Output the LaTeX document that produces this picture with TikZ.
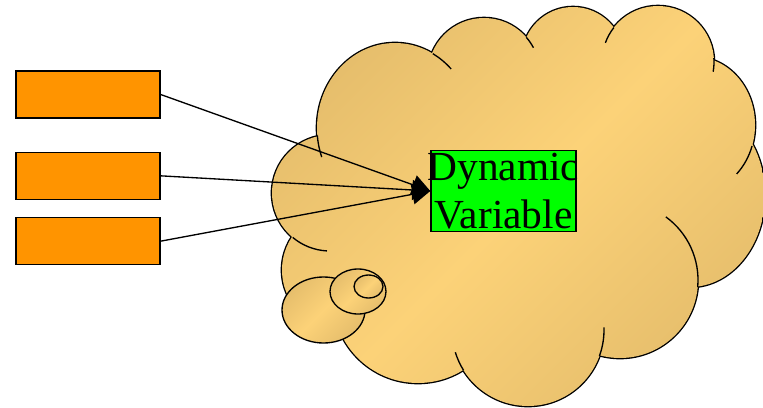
\documentclass[tikz,border=0pt]{standalone}
\usepackage{fontspec}
\setmainfont{Liberation Serif}
\usetikzlibrary{positioning, calc, arrows.meta}
\definecolor{cloudlight}{RGB}{252, 210, 120}
\definecolor{clouddark}{RGB}{230, 190, 108}
\definecolor{boxorange}{RGB}{255, 148, 0}
\definecolor{vargreen}{RGB}{0, 255, 0}

\begin{document}
\begin{tikzpicture}[x=0.75pt, y=0.75pt, line width=1pt]
    \tikzstyle{inbox} = [draw, fill=boxorange, minimum width=108pt, minimum height=35.25pt, inner sep=0pt]
    \tikzstyle{varbox} = [draw, fill=vargreen, align=center, inner xsep=-2.4pt, inner ysep=2pt, font=\fontsize{31}{36}\selectfont]
    \tikzstyle{cloudfill} = [top color=clouddark, bottom color=clouddark, middle color=cloudlight, shading angle=45]
    \tikzstyle{crease} = [line width=1pt]
    \tikzstyle{arrow} = [line width=1pt, -{Triangle[length=13.5pt, width=15pt]}]

    \useasboundingbox (0,0) rectangle (763,-407);

    % Cloud: outline first, then the shaded union on top
    \foreach \cx/\cy/\rx/\ry in {395/128/78/85, 484/74/56/56, 573/58/51/51, 658/62/56/56,
        695/125/60/68, 690/195/75/92, 620/280/78/78, 528/330/76/76, 418/298/85/85,
        342/270/60/60, 330/193/58/58}
        \draw [line width=2pt] (\cx,-\cy) ellipse [x radius=\rx, y radius=\ry];
    \shade [cloudfill] (530,-200) ellipse [x radius=180, y radius=120]
        foreach \cx/\cy/\rx/\ry in {395/128/78/85, 484/74/56/56, 573/58/51/51, 658/62/56/56,
        695/125/60/68, 690/195/75/92, 620/280/78/78, 528/330/76/76, 418/298/85/85,
        342/270/60/60, 330/193/58/58} {(\cx,-\cy) ellipse [x radius=\rx, y radius=\ry]};

    % Creases
    \foreach \cx/\cy/\rx/\ry/\ta/\tb in {395/128/78/85/185/200, 395/128/78/85/61/44,
        484/74/56/56/41/28, 658/62/56/56/142/160, 658/62/56/56/4/-10,
        695/125/60/68/-18/-46, 620/280/78/78/54/-5, 528/330/76/76/2/-20,
        528/330/76/76/-148/-163, 330/193/58/58/-130/-93}
        \draw [crease] ([shift={(\ta:{\rx} and {\ry})}]\cx,-\cy) arc [start angle=\ta, end angle=\tb, x radius=\rx, y radius=\ry];

    % Thought bubbles
    \draw [cloudfill] (323.5,-310) ellipse [x radius=41.5, y radius=33];
    \draw [cloudfill] (358,-291.5) ellipse [x radius=28, y radius=22.5];
    \draw [cloudfill] (368.5,-286.5) ellipse [x radius=14.5, y radius=11.5];

    % Boxes
    \node (in1) [inbox] at (88,-94.5) {};
    \node (in2) [inbox, below=24.75pt of in1] {};
    \node (in3) [inbox, below=12.75pt of in2] {};
    \node (dv) [varbox] at (503.5,-191) {Dynamic\\Variable};

    % Arrows
    \draw [arrow] (in1.east) -- (dv.west);
    \draw [arrow] (in2.east) -- (dv.west);
    \draw [arrow] (in3.east) -- (dv.west);
\end{tikzpicture}
\end{document}
